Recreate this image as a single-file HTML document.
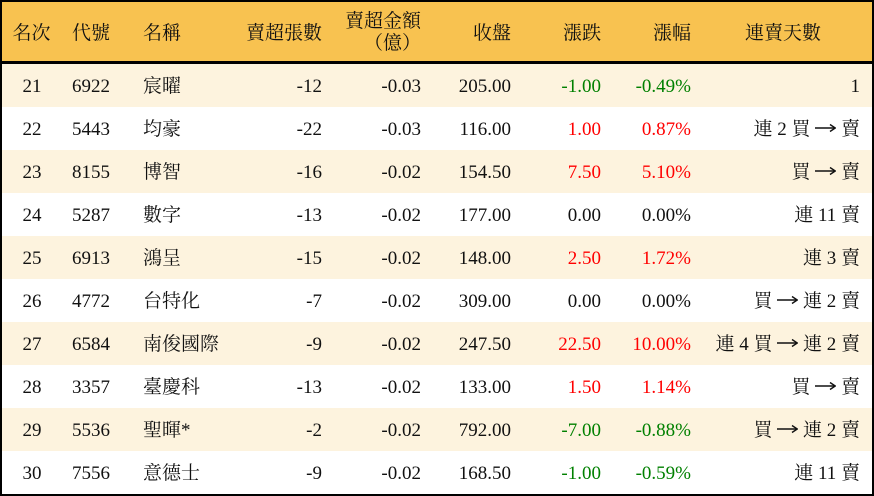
<!DOCTYPE html>
<html><head><meta charset="utf-8"><style>
html,body{margin:0;padding:0;}
body{width:874px;height:496px;overflow:hidden;}
#t{position:relative;width:874px;height:496px;background:#000;font-family:"Liberation Serif","Noto Serif CJK SC",serif;font-size:19px;color:#111;}
.hd{position:absolute;left:2px;top:2px;width:870px;height:59px;background:#F8C250;}
.r{position:absolute;left:2px;width:870px;height:43px;background:#fff;}
.r.c{background:#FDF3DE;}
.r span{position:absolute;top:1px;line-height:43px;white-space:nowrap;}
.hd span{position:absolute;top:2px;line-height:59px;white-space:nowrap;}
.g{color:#008000;}
.rd{color:#ff0000;}
svg.a{vertical-align:2px;}
</style></head><body>
<div id="t">
<div class="hd">
<span style="left:10px;width:39px;text-align:center">名次</span>
<span style="left:70px">代號</span>
<span style="left:141px">名稱</span>
<span style="right:550px">賣超張數</span>
<span style="right:451px;top:0;line-height:22px;text-align:right;padding-top:9px">賣超金額<br>（億）</span>
<span style="right:361px">收盤</span>
<span style="right:271px">漲跌</span>
<span style="right:181px">漲幅</span>
<span style="left:743px">連賣天數</span>
</div>

<div class="r c" style="top:64px"><span style="left:0;width:60px;text-align:center">21</span><span style="left:70px">6922</span><span style="left:141px">宸曜</span><span style="right:550px">-12</span><span style="right:451px">-0.03</span><span style="right:361px">205.00</span><span style="right:271px" class="g">-1.00</span><span style="right:181px" class="g">-0.49%</span><span style="right:12px">1</span></div>
<div class="r" style="top:107px"><span style="left:0;width:60px;text-align:center">22</span><span style="left:70px">5443</span><span style="left:141px">均豪</span><span style="right:550px">-22</span><span style="right:451px">-0.03</span><span style="right:361px">116.00</span><span style="right:271px" class="rd">1.00</span><span style="right:181px" class="rd">0.87%</span><span style="right:12px">連 2 買 <svg class="a" width="21" height="10" viewBox="0 0 21 10"><line x1="0" y1="5" x2="20" y2="5" stroke="#111" stroke-width="1.4"/><polyline points="15,1.5 20.3,5 15,8.5" fill="none" stroke="#111" stroke-width="1.4"/></svg> 賣</span></div>
<div class="r c" style="top:150px"><span style="left:0;width:60px;text-align:center">23</span><span style="left:70px">8155</span><span style="left:141px">博智</span><span style="right:550px">-16</span><span style="right:451px">-0.02</span><span style="right:361px">154.50</span><span style="right:271px" class="rd">7.50</span><span style="right:181px" class="rd">5.10%</span><span style="right:12px">買 <svg class="a" width="21" height="10" viewBox="0 0 21 10"><line x1="0" y1="5" x2="20" y2="5" stroke="#111" stroke-width="1.4"/><polyline points="15,1.5 20.3,5 15,8.5" fill="none" stroke="#111" stroke-width="1.4"/></svg> 賣</span></div>
<div class="r" style="top:193px"><span style="left:0;width:60px;text-align:center">24</span><span style="left:70px">5287</span><span style="left:141px">數字</span><span style="right:550px">-13</span><span style="right:451px">-0.02</span><span style="right:361px">177.00</span><span style="right:271px">0.00</span><span style="right:181px">0.00%</span><span style="right:12px">連 11 賣</span></div>
<div class="r c" style="top:236px"><span style="left:0;width:60px;text-align:center">25</span><span style="left:70px">6913</span><span style="left:141px">鴻呈</span><span style="right:550px">-15</span><span style="right:451px">-0.02</span><span style="right:361px">148.00</span><span style="right:271px" class="rd">2.50</span><span style="right:181px" class="rd">1.72%</span><span style="right:12px">連 3 賣</span></div>
<div class="r" style="top:279px"><span style="left:0;width:60px;text-align:center">26</span><span style="left:70px">4772</span><span style="left:141px">台特化</span><span style="right:550px">-7</span><span style="right:451px">-0.02</span><span style="right:361px">309.00</span><span style="right:271px">0.00</span><span style="right:181px">0.00%</span><span style="right:12px">買 <svg class="a" width="21" height="10" viewBox="0 0 21 10"><line x1="0" y1="5" x2="20" y2="5" stroke="#111" stroke-width="1.4"/><polyline points="15,1.5 20.3,5 15,8.5" fill="none" stroke="#111" stroke-width="1.4"/></svg> 連 2 賣</span></div>
<div class="r c" style="top:322px"><span style="left:0;width:60px;text-align:center">27</span><span style="left:70px">6584</span><span style="left:141px">南俊國際</span><span style="right:550px">-9</span><span style="right:451px">-0.02</span><span style="right:361px">247.50</span><span style="right:271px" class="rd">22.50</span><span style="right:181px" class="rd">10.00%</span><span style="right:12px">連 4 買 <svg class="a" width="21" height="10" viewBox="0 0 21 10"><line x1="0" y1="5" x2="20" y2="5" stroke="#111" stroke-width="1.4"/><polyline points="15,1.5 20.3,5 15,8.5" fill="none" stroke="#111" stroke-width="1.4"/></svg> 連 2 賣</span></div>
<div class="r" style="top:365px"><span style="left:0;width:60px;text-align:center">28</span><span style="left:70px">3357</span><span style="left:141px">臺慶科</span><span style="right:550px">-13</span><span style="right:451px">-0.02</span><span style="right:361px">133.00</span><span style="right:271px" class="rd">1.50</span><span style="right:181px" class="rd">1.14%</span><span style="right:12px">買 <svg class="a" width="21" height="10" viewBox="0 0 21 10"><line x1="0" y1="5" x2="20" y2="5" stroke="#111" stroke-width="1.4"/><polyline points="15,1.5 20.3,5 15,8.5" fill="none" stroke="#111" stroke-width="1.4"/></svg> 賣</span></div>
<div class="r c" style="top:408px"><span style="left:0;width:60px;text-align:center">29</span><span style="left:70px">5536</span><span style="left:141px">聖暉*</span><span style="right:550px">-2</span><span style="right:451px">-0.02</span><span style="right:361px">792.00</span><span style="right:271px" class="g">-7.00</span><span style="right:181px" class="g">-0.88%</span><span style="right:12px">買 <svg class="a" width="21" height="10" viewBox="0 0 21 10"><line x1="0" y1="5" x2="20" y2="5" stroke="#111" stroke-width="1.4"/><polyline points="15,1.5 20.3,5 15,8.5" fill="none" stroke="#111" stroke-width="1.4"/></svg> 連 2 賣</span></div>
<div class="r" style="top:451px"><span style="left:0;width:60px;text-align:center">30</span><span style="left:70px">7556</span><span style="left:141px">意德士</span><span style="right:550px">-9</span><span style="right:451px">-0.02</span><span style="right:361px">168.50</span><span style="right:271px" class="g">-1.00</span><span style="right:181px" class="g">-0.59%</span><span style="right:12px">連 11 賣</span></div>
</div>
</body></html>
